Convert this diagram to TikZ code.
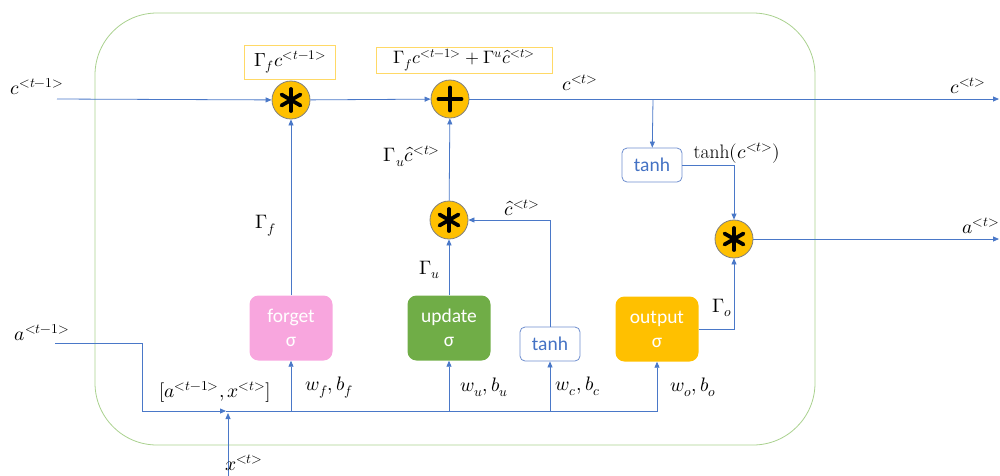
\documentclass[tikz,border=0pt]{standalone}
\usepackage{fontspec}
\usepackage{unicode-math}
\setmathfont{Latin Modern Math}
\newfontfamily\boxfont{Carlito}
\usetikzlibrary{arrows.meta}
\definecolor{lineblue}{HTML}{4A78C8}
\definecolor{framegreen}{HTML}{A9D18E}
\definecolor{opfill}{HTML}{FFC000}
\definecolor{opborder}{HTML}{7F7F7F}
\definecolor{forgetpink}{HTML}{F8A6DE}
\definecolor{updategreen}{HTML}{70AD47}
\definecolor{outorange}{HTML}{FFC000}
\definecolor{tanhborder}{HTML}{6F8FCF}
\definecolor{tanhtext}{HTML}{4472C4}
\definecolor{eqborder}{HTML}{FFD966}
\begin{document}
\begin{tikzpicture}[x=1pt,y=-1pt,
  conn/.style={draw=lineblue, line width=0.8pt},
  arr/.style={conn, -{Triangle[length=6pt,width=5pt]}},
  op/.style={circle, fill=opfill, draw=opborder, line width=0.8pt, minimum size=38pt, inner sep=0pt},
  sym/.style={line width=3.8pt, line cap=round, black},
  gate/.style={rounded corners=9pt, minimum width=83pt, minimum height=65pt, text=white,
    font=\boxfont\fontsize{19.5}{24}\selectfont, align=center, inner sep=0pt},
  tanhbox/.style={draw=tanhborder, line width=0.8pt, fill=white, rounded corners=5pt, minimum width=60pt,
    minimum height=34pt, text=tanhtext, font=\boxfont\fontsize{19.5}{22}\selectfont, inner sep=0pt},
  lbl/.style={font=\fontsize{19.5}{22}\selectfont, inner sep=0pt},
  eqbox/.style={draw=eqborder, line width=0.8pt, fill=white, inner sep=0pt, font=\fontsize{19}{22}\selectfont}]
\useasboundingbox (0,0) rectangle (1000,475);
% frame
\draw[draw=framegreen, line width=0.8pt, rounded corners=62pt] (95,13) rectangle (815,445);

% operators
\node[op] (m1) at (291,100) {};
\node[op] (pl) at (450,99) {};
\node[op] (m2) at (449,220) {};
\node[op] (m3) at (734,239) {};
\foreach \n in {m1,m2,m3}{
  \foreach \a in {90,30,150}{
    \draw[sym] (\n) ++(\a:11) -- ++(\a+180:22);
  }
}
\draw[sym] (pl) ++(0:11.5) -- ++(180:23);
\draw[sym] (pl) ++(90:11.5) -- ++(270:23);

% gates
\node[gate, fill=forgetpink] (fg) at (291,328) {forget\\σ};
\node[gate, fill=updategreen] (ug) at (449,328) {update\\σ};
\node[gate, fill=outorange] (og) at (657,329) {output\\σ};
\node[tanhbox] (t1) at (550,344) {tanh};
\node[tanhbox] (t2) at (652,165) {tanh};

% equation boxes
\node[eqbox, minimum width=91pt, minimum height=34pt] (eq1) at (290,62) {$\Gamma_f c^{<t-1>}$};
\node[eqbox, minimum width=176pt, minimum height=26pt, font=\fontsize{18}{21}\selectfont] (eq2) at (464,60) {$\Gamma_f c^{<t-1>} + \Gamma^u \hat{c}^{<t>}$};

% coordinates
\coordinate (cin) at (57,99);
\coordinate (cout) at (999,99);
\coordinate (br) at (653,99);
\coordinate (aout) at (999,239);
\coordinate (ain) at (55,343);
\coordinate (b0) at (142,411);
\coordinate (bj) at (226,411);
\coordinate (xin) at (228,480);
\coordinate (xj) at (228,413);

% cell-state path
\draw[arr] (cin) -- (m1);
\draw[arr] (m1) -- (pl);
\draw[arr] (pl) -- (cout);
\draw[arr] (br) -- (t2);
\draw[arr] (fg) -- (m1);
\draw[arr] (ug) -- (m2);
\draw[arr] (m2) -- (pl);
\draw[arr] (t1.north) |- (m2);
\draw[arr] (t2.east) -| (m3);
\draw[arr] (og.east) -| (m3);
\draw[arr] (m3) -- (aout);

% input bus
\draw[arr] (ain) -| (b0) -- (bj);
\draw[arr] (bj) -| (og);
\draw[arr] (fg |- bj) -- (fg);
\draw[arr] (ug |- bj) -- (ug);
\draw[arr] (t1 |- bj) -- (t1);
\draw[arr] (xin) -- (xj);

% labels
\node[lbl] (lc0) at (37,87) {$c^{<t-1>}$};
\node[lbl] (la0) at (42,333) {$a^{<t-1>}$};
\node[lbl] (lx) at (244,463) {$x^{<t>}$};
\node[lbl] (lax) at (215,392) {$[a^{<t-1>}, x^{<t>}]$};
\node[lbl] (lwf) at (329,388) {$w_f, b_f$};
\node[lbl] (lwu) at (484,387) {$w_u, b_u$};
\node[lbl] (lwc) at (578,386) {$w_c, b_c$};
\node[lbl] (lwo) at (693,387) {$w_o, b_o$};
\node[lbl] (lgf) at (266,226) {$\Gamma_f$};
\node[lbl] (lgu) at (430,270) {$\Gamma_u$};
\node[lbl] (lgo) at (722,308) {$\Gamma_o$};
\node[lbl] (lguc) at (412,156) {$\Gamma_u\hat{c}^{<t>}$};
\node[lbl] (lch) at (522,208) {$\hat{c}^{<t>}$};
\node[lbl] (lct) at (580,83) {$c^{<t>}$};
\node[lbl] (lct2) at (968,86) {$c^{<t>}$};
\node[lbl] (lat) at (981,226) {$a^{<t>}$};
\node[lbl] (ltanh) at (737,153) {$\tanh(c^{<t>})$};
\end{tikzpicture}
\end{document}
